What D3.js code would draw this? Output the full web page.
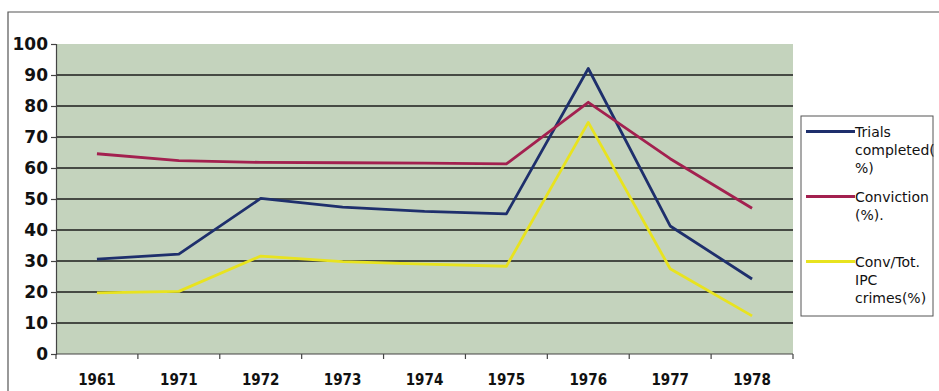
<!DOCTYPE html>
<html>
<head>
<meta charset="utf-8">
<script src="https://cdn.jsdelivr.net/npm/d3@7/dist/d3.min.js"></script>
<style>
  html, body { margin: 0; padding: 0; background: #ffffff; }
  svg { display: block; }
</style>
</head>
<body>
<svg id="chart" width="939" height="391"></svg>
<script>
// Years on the category axis
const years = ["1961", "1971", "1972", "1973", "1974", "1975", "1976", "1977", "1978"];

// Series values (percent)
const trialsCompleted = [30.6, 32.2, 50.2, 47.4, 46.0, 45.2, 92.1, 41.3, 24.2];
const conviction      = [64.6, 62.4, 61.8, 61.7, 61.6, 61.3, 81.2, 63.0, 47.0];
const convTotIPC      = [19.7, 20.2, 31.6, 29.8, 29.0, 28.3, 74.7, 27.5, 12.3];

// Value-axis ticks
const yTicks = [0, 10, 20, 30, 40, 50, 60, 70, 80, 90, 100];

// Legend entries (multi-line labels)
const seriesNames = [
  ["Trials", "completed(", "%)"],
  ["Conviction", "(%)."],
  ["Conv/Tot.", "IPC", "crimes(%)"]
];
const seriesColors = ["#1e2f6c", "#a3204f", "#e8e31f"];
const seriesData = [trialsCompleted, conviction, convTotIPC];

const svg = d3.select("#chart");

const plot = { left: 56, right: 793, top: 44, bottom: 354 };

// Outer chart frame (top and left edges visible)
svg.append("path")
  .attr("d", "M8,391 L8,12 L939,12")
  .attr("fill", "none")
  .attr("stroke", "#555")
  .attr("stroke-width", 1.2);

const x = d3.scaleBand()
  .domain(years)
  .range([plot.left, plot.right])
  .paddingInner(0)
  .paddingOuter(0);

const y = d3.scaleLinear()
  .domain([0, 100])
  .range([plot.bottom, plot.top]);

// Plot area fill
svg.append("rect")
  .attr("x", plot.left)
  .attr("y", plot.top)
  .attr("width", plot.right - plot.left)
  .attr("height", plot.bottom - plot.top)
  .attr("fill", "#c4d3bd");

// Horizontal gridlines
svg.append("g")
  .selectAll("line")
  .data(yTicks.filter(t => t > 0 && t < 100))
  .join("line")
  .attr("x1", plot.left)
  .attr("x2", plot.right)
  .attr("y1", d => y(d))
  .attr("y2", d => y(d))
  .attr("stroke", "#1c1c1c")
  .attr("stroke-width", 1.4);

// Y axis
const yAxis = svg.append("g")
  .attr("transform", `translate(${plot.left},0)`)
  .call(d3.axisLeft(y).tickValues(yTicks).tickSize(5).tickPadding(3));
yAxis.select(".domain").attr("stroke", "#444").attr("stroke-width", 1.2);
yAxis.selectAll(".tick line").attr("stroke", "#444").attr("stroke-width", 1.2);
yAxis.selectAll(".tick text")
  .attr("fill", "#111")
  .style("font-family", "'DejaVu Sans', Verdana, sans-serif")
  .style("font-weight", "bold")
  .style("font-size", "17px");

// X axis: ticks on category boundaries, labels centered in each band
const xAxisG = svg.append("g").attr("transform", `translate(0,${plot.bottom})`);
xAxisG.append("line")
  .attr("x1", plot.left).attr("x2", plot.right)
  .attr("y1", 0).attr("y2", 0)
  .attr("stroke", "#444").attr("stroke-width", 1.2);
const boundaries = years.map(d => x(d)).concat([x(years[years.length - 1]) + x.bandwidth()]);
xAxisG.selectAll("line.tick")
  .data(boundaries)
  .join("line")
  .attr("class", "tick")
  .attr("x1", d => d).attr("x2", d => d)
  .attr("y1", 0).attr("y2", 5)
  .attr("stroke", "#444").attr("stroke-width", 1.2);
xAxisG.selectAll("text")
  .data(years)
  .join("text")
  .attr("x", d => x(d) + x.bandwidth() / 2)
  .attr("y", 31)
  .attr("text-anchor", "middle")
  .attr("fill", "#111")
  .style("font-family", "'DejaVu Sans Condensed', 'DejaVu Sans', sans-serif")
  .style("font-weight", "bold")
  .style("font-size", "15px")
  .text(d => d);

// Series lines
const line = d3.line()
  .x((d, i) => x(years[i]) + x.bandwidth() / 2)
  .y(d => y(d));

seriesData.forEach((vals, k) => {
  svg.append("path")
    .datum(vals)
    .attr("fill", "none")
    .attr("stroke", seriesColors[k])
    .attr("stroke-width", 2.8)
    .attr("stroke-linejoin", "round")
    .attr("d", line);
});

// Legend
const legend = svg.append("g");
legend.append("rect")
  .attr("x", 801).attr("y", 116)
  .attr("width", 132).attr("height", 200)
  .attr("fill", "#ffffff")
  .attr("stroke", "#555")
  .attr("stroke-width", 1);

const legendTop = [131.5, 196.5, 261.5];
seriesNames.forEach((lines, k) => {
  const ly = legendTop[k];
  legend.append("line")
    .attr("x1", 806).attr("x2", 855)
    .attr("y1", ly).attr("y2", ly)
    .attr("stroke", seriesColors[k])
    .attr("stroke-width", 2.8);
  const t = legend.append("text")
    .attr("x", 855)
    .attr("y", ly + 5.5)
    .attr("fill", "#111")
    .style("font-family", "'DejaVu Sans', Verdana, sans-serif")
    .style("font-size", "14px");
  lines.forEach((s, j) => {
    t.append("tspan")
      .attr("x", 855)
      .attr("dy", j === 0 ? 0 : 17.8)
      .text(s);
  });
});
</script>
</body>
</html>
